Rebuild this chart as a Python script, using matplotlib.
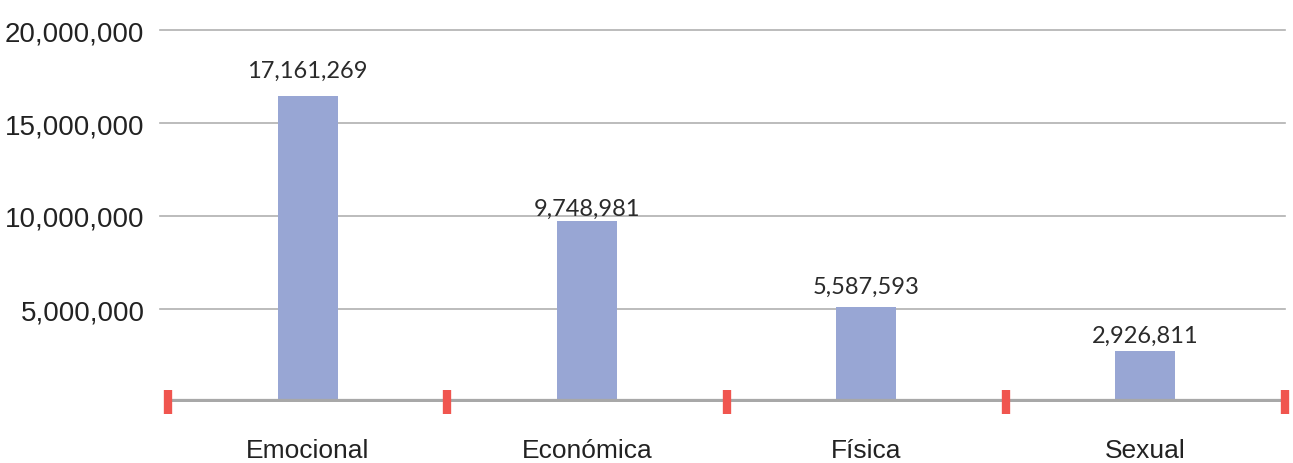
import matplotlib.pyplot as plt

categories = ["Emocional", "Económica", "Física", "Sexual"]
bar_values = [16470000, 9750000, 5110000, 2760000]   # heights as drawn
label_values = [17161269, 9748981, 5587593, 2926811]  # numbers printed above bars
y_ticks = [5000000, 10000000, 15000000, 20000000]

fig = plt.figure(figsize=(12.93, 4.64), dpi=100)
ax = fig.add_axes([168 / 1293, 61 / 464, 1117 / 1293, 372 / 464])

x = list(range(len(categories)))
ax.bar(x, bar_values, width=0.215, color="#98a6d4", zorder=2)

ax.set_xlim(-0.5, 3.5)
ax.set_ylim(0, 20000000)

# gridlines, slightly poking out to the left
for t in y_ticks:
    ax.axhline(t, xmin=-0.007, xmax=1, color="#b0b0b0", lw=1.2, zorder=1, clip_on=False)

# base axis line with red boundary ticks
ax.axhline(0, color="#a8a8a8", lw=4.5, zorder=3)
for b in [-0.5, 0.5, 1.5, 2.5, 3.5]:
    ax.plot([b, b], [-650000, 650000], color="#f0554f", lw=6, solid_capstyle="butt",
            zorder=4, clip_on=False)

for xi, lv in zip(x, label_values):
    ax.annotate(f"{lv:,}", (xi, lv), xytext=(0, 4), textcoords="offset points",
                ha="center", va="baseline", fontsize=17, color="#2a2a2a",
                family=["Lato", "DejaVu Sans"])

ax.set_yticks(y_ticks)
ax.set_yticklabels([f"{t:,}" for t in y_ticks], fontsize=20,
                   family=["Liberation Sans", "DejaVu Sans"], color="#222222")
ax.set_xticks(x)
ax.set_xticklabels(categories, fontsize=19,
                   family=["Liberation Sans", "DejaVu Sans"], color="#222222")
ax.tick_params(axis="both", length=0)
ax.tick_params(axis="y", pad=17)
ax.tick_params(axis="x", pad=26)

for s in ax.spines.values():
    s.set_visible(False)

fig.savefig("out.png", dpi=100)
